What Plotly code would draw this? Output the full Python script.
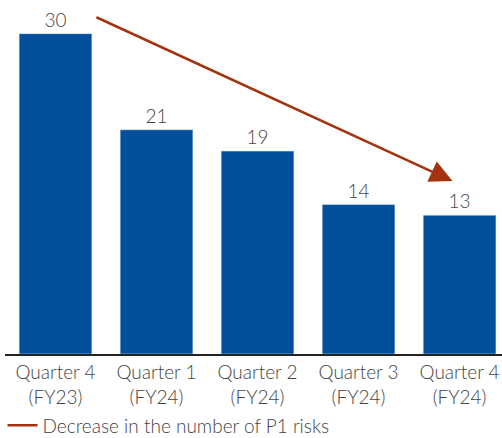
import plotly.graph_objects as go

categories = ["Quarter 4<br>(FY23)", "Quarter 1<br>(FY24)", "Quarter 2<br>(FY24)",
              "Quarter 3<br>(FY24)", "Quarter 4<br>(FY24)"]
values = [30, 21, 19, 14, 13]
legend_label = "Decrease in the number of P1 risks"

BAR = "#02509B"
ARROW = "#A3340F"
TXT = "#444444"
FONT = "Lato, Open Sans, sans-serif"

fig = go.Figure()
fig.add_trace(go.Bar(
    x=list(range(len(categories))), y=values, marker_color=BAR, width=0.72,
    text=[str(v) for v in values], textposition="outside",
    textfont=dict(size=19, color=TXT, family=FONT, weight=300),
    cliponaxis=False, showlegend=False,
))
fig.add_trace(go.Scatter(
    x=[None], y=[None], mode="lines", line=dict(color=ARROW, width=2.5),
    name=legend_label, showlegend=True,
))

fig.add_annotation(
    x=3.93, y=16.2, ax=0.39, ay=31.6, xref="x", yref="y", axref="x", ayref="y",
    showarrow=True, arrowhead=2, arrowsize=1.8, arrowwidth=2.5, arrowcolor=ARROW,
    text="",
)

fig.update_layout(
    width=502, height=438,
    margin=dict(l=5, r=0, t=0, b=84, autoexpand=False),
    plot_bgcolor="white", paper_bgcolor="white",
    font=dict(family=FONT, size=19, color=TXT, weight=300),
    bargap=0.28,
    xaxis=dict(
        range=[-0.5, 4.42], tickmode="array", tickvals=list(range(len(categories))),
        ticktext=categories, showline=True, linecolor="#222", linewidth=2,
        ticks="", showgrid=False, zeroline=False, automargin=False,
        tickfont=dict(size=19, color=TXT, family=FONT, weight=300),
    ),
    yaxis=dict(range=[0, 33.15], visible=False, showgrid=False, zeroline=False),
    legend=dict(
        orientation="h", x=-0.005, xanchor="left", y=-0.148, yanchor="top",
        yref="paper", font=dict(size=19, color=TXT, family=FONT, weight=300),
        bgcolor="rgba(0,0,0,0)", itemwidth=30,
    ),
)

fig.write_html("out.html")
